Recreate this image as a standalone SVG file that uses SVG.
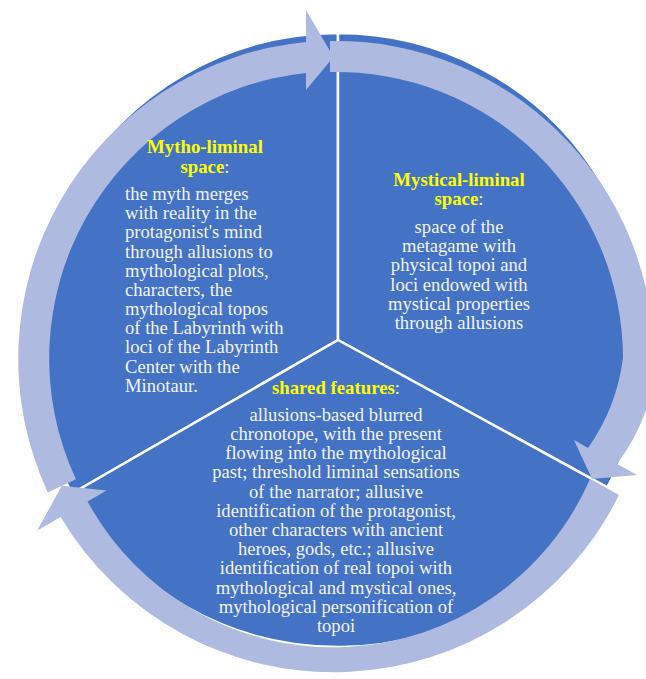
<svg xmlns="http://www.w3.org/2000/svg" width="646" height="679" viewBox="0 0 646 679">
  <style>
    .sector { fill: #4472C4; stroke: #FFFFFF; stroke-width: 2.5; stroke-linejoin: miter; }
    .ring { fill: #AEBADF; }
    .title { font-family: "Liberation Serif", "Times New Roman", serif; font-size: 18.8px; font-weight: bold; fill: #FFFF00; }
    .colon { font-weight: normal; fill: #F2F2F2; }
    .body { font-family: "Liberation Serif", "Times New Roman", serif; font-size: 18.6px; fill: #F2F2F2; }
  </style>

  <!-- pie sectors -->
  <g id="sector-mytho">
    <path class="sector" d="M 338 340 L 72.1 493.5 A 307 307 0 0 1 338 33 Z"/>
  </g>
  <g id="sector-mystical">
    <path class="sector" d="M 338 340 L 338 33 A 307 307 0 0 1 607.3 487.4 Z"/>
  </g>
  <g id="sector-shared">
    <path class="sector" d="M 338 340 L 607.3 487.4 A 307 307 0 0 1 72.1 493.5 Z"/>
  </g>

  <!-- circular arrows around the pie (clockwise) -->
  <g id="connectors">
    <!-- left arc, head at the top -->
    <path class="ring" d="M 47.8 492.4 A 318 318 0 0 1 306 42 L 306 10 L 333.5 57 L 306 90 L 306 73 A 287 287 0 0 0 75.9 479.3 Z"/>
    <!-- right arc, head at the lower right -->
    <path class="ring" d="M 330 41 A 318 318 0 0 1 652.8 385.7 A 200 200 0 0 1 617 464 L 637 475 L 592 479 L 574 440 L 588 448 A 200 200 0 0 0 623 358 A 287 287 0 0 0 330 72 Z"/>
    <!-- bottom arc, head at the lower left -->
    <path class="ring" d="M 619 495 A 318 318 0 0 1 60.6 517.0 L 37.2 530.5 L 61.8 485.8 L 106.5 490.5 L 87.5 501.5 A 280 280 0 0 0 590 479 Z"/>
  </g>

  <!-- texts -->
  <g id="text-mytho">
    <text class="title" x="205" y="153" text-anchor="middle">Mytho-liminal</text>
    <text class="title" x="205" y="173" text-anchor="middle">space<tspan class="colon">:</tspan></text>
    <text class="body" x="125" y="200">the myth merges</text>
    <text class="body" x="125" y="219.2">with reality in the</text>
    <text class="body" x="125" y="238.3">protagonist's mind</text>
    <text class="body" x="125" y="257.5">through allusions to</text>
    <text class="body" x="125" y="276.7">mythological plots,</text>
    <text class="body" x="125" y="295.9">characters, the</text>
    <text class="body" x="125" y="315">mythological topos</text>
    <text class="body" x="125" y="334.2">of the Labyrinth with</text>
    <text class="body" x="125" y="353.4">loci of the Labyrinth</text>
    <text class="body" x="125" y="372.5">Center with the</text>
    <text class="body" x="125" y="391.7">Minotaur.</text>
  </g>

  <g id="text-mystical">
    <text class="title" x="459" y="186" text-anchor="middle">Mystical-liminal</text>
    <text class="title" x="459" y="205" text-anchor="middle">space<tspan class="colon">:</tspan></text>
    <text class="body" x="459" y="233" text-anchor="middle">space of the</text>
    <text class="body" x="459" y="252.2" text-anchor="middle">metagame with</text>
    <text class="body" x="459" y="271.4" text-anchor="middle">physical topoi and</text>
    <text class="body" x="459" y="290.6" text-anchor="middle">loci endowed with</text>
    <text class="body" x="459" y="309.8" text-anchor="middle">mystical properties</text>
    <text class="body" x="459" y="329" text-anchor="middle">through allusions</text>
  </g>

  <g id="text-shared">
    <text class="title" x="336" y="394" text-anchor="middle">shared features<tspan class="colon">:</tspan></text>
    <text class="body" x="336" y="420.7" text-anchor="middle">allusions-based blurred</text>
    <text class="body" x="336" y="439.9" text-anchor="middle">chronotope, with the present</text>
    <text class="body" x="336" y="459.1" text-anchor="middle">flowing into the mythological</text>
    <text class="body" x="336" y="478.3" text-anchor="middle">past; threshold liminal sensations</text>
    <text class="body" x="336" y="497.5" text-anchor="middle">of the narrator; allusive</text>
    <text class="body" x="336" y="516.7" text-anchor="middle">identification of the protagonist,</text>
    <text class="body" x="336" y="535.9" text-anchor="middle">other characters with ancient</text>
    <text class="body" x="336" y="555.1" text-anchor="middle">heroes, gods, etc.; allusive</text>
    <text class="body" x="336" y="574.3" text-anchor="middle">identification of real topoi with</text>
    <text class="body" x="336" y="593.5" text-anchor="middle">mythological and mystical ones,</text>
    <text class="body" x="336" y="612.7" text-anchor="middle">mythological personification of</text>
    <text class="body" x="336" y="631.9" text-anchor="middle">topoi</text>
  </g>
</svg>
